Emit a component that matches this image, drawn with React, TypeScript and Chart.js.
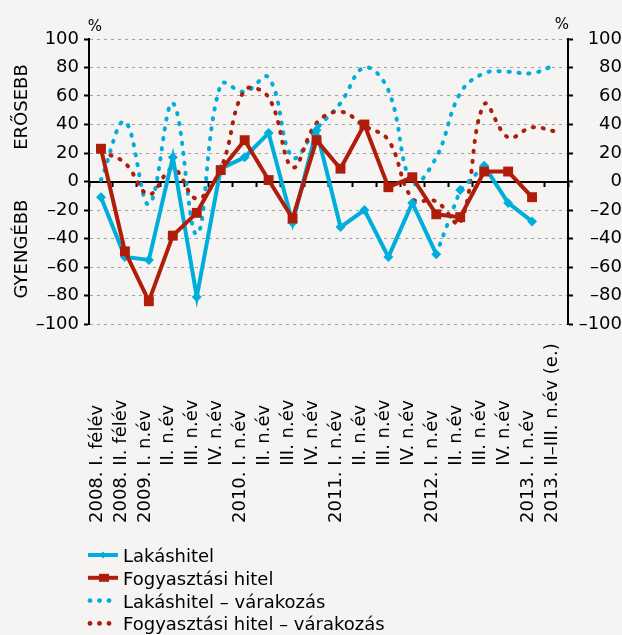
import React, { useEffect, useRef } from "react";
import { Chart, registerables } from "chart.js";

Chart.register(...registerables);

const yearLabels = ["2008.", "2008.", "2009.", "", "", "", "2010.", "", "", "", "2011.", "", "", "", "2012.", "", "", "", "2013.", "2013."];
const periodLabels = [
  "I. félév", "II. félév", "I. n.év", "II. n.év", "III. n.év", "IV. n.év",
  "I. n.év", "II. n.év", "III. n.év", "IV. n.év",
  "I. n.év", "II. n.év", "III. n.év", "IV. n.év",
  "I. n.év", "II. n.év", "III. n.év", "IV. n.év",
  "I. n.év", "II–III. n.év (e.)",
];
const categories = yearLabels.map((y, i) => (y ? y + " " : "") + periodLabels[i]);

const lakashitel = [-11, -53, -55, 17, -81, 9, 17, 34, -29, 36, -32, -20, -53, -15, -51, -6, 11, -15, -28, null];
const fogyasztasi = [23, -49, -84, -38, -22, 8, 29, 1, -26, 29, 9, 40, -4, 3, -23, -25, 7, 7, -11, null];
const lakashitelVar = [1, 42, -16, 55, -37, 68, 63, 73, 17, 37, 55, 80, 64, -1, 17, 62, 76, 77, 76, 82];
const fogyasztasiVar = [21, 13, -9, 9, -12, 9, 64, 59, 10, 41, 49, 39, 29, -12, -14, -29, 54, 31, 38, 35];
const lakashitelDottedSegments = [14, 15];

const legendLabels = ["Lakáshitel", "Fogyasztási hitel", "Lakáshitel – várakozás", "Fogyasztási hitel – várakozás"];
const axisTitleTop = "ERŐSEBB";
const axisTitleBottom = "GYENGÉBB";
const unitLabel = "%";

const CYAN = "#00aedc";
const RED = "#b01e0b";
const BG = "#f5f4f2";
const FONT = '"DejaVu Sans"';
const DOT = [1.2, 8.8];

const tickLabel = (v: any) => (Number(v) < 0 ? "–" + Math.abs(Number(v)) : String(v));

const extrasPlugin = {
  id: "extras",
  beforeDraw(chart: any) {
    const { ctx, width, height } = chart;
    ctx.save();
    ctx.fillStyle = BG;
    ctx.fillRect(0, 0, width, height);
    ctx.restore();
  },
  afterDraw(chart: any) {
    const { ctx } = chart;
    const xs = chart.scales.x;
    const area = chart.chartArea;
    ctx.save();
    ctx.fillStyle = "#000";
    ctx.font = `18px ${FONT}`;
    ctx.textBaseline = "middle";
    ctx.textAlign = "left";
    const yearW = ctx.measureText("2008. ").width;
    categories.forEach((_, i) => {
      const x = xs.getPixelForValue(i) - 4;
      ctx.save();
      ctx.translate(x, 523);
      ctx.rotate(-Math.PI / 2);
      if (yearLabels[i]) ctx.fillText(yearLabels[i], 0, 0);
      ctx.fillText(periodLabels[i], yearW, 0);
      ctx.restore();
    });

    // axis side titles
    ctx.textAlign = "center";
    ctx.save();
    ctx.translate(22, 107);
    ctx.rotate(-Math.PI / 2);
    ctx.fillText(axisTitleTop, 0, 0);
    ctx.restore();
    ctx.save();
    ctx.translate(22, 249);
    ctx.rotate(-Math.PI / 2);
    ctx.fillText(axisTitleBottom, 0, 0);
    ctx.restore();

    // unit labels
    ctx.font = `15px ${FONT}`;
    ctx.fillText(unitLabel, area.left + 6, area.top - 12);
    ctx.fillText(unitLabel, area.right - 6, area.top - 14);

    // legend
    const styles = [
      { color: CYAN, dotted: false, marker: "diamond" },
      { color: RED, dotted: false, marker: "square" },
      { color: CYAN, dotted: true, marker: "" },
      { color: RED, dotted: true, marker: "" },
    ];
    ctx.font = `18px ${FONT}`;
    ctx.textAlign = "left";
    ctx.textBaseline = "alphabetic";
    legendLabels.forEach((label, k) => {
      const ly = 555 + 22.8 * k;
      const st = styles[k];
      ctx.fillStyle = st.color;
      ctx.strokeStyle = st.color;
      if (st.dotted) {
        [90, 99.5, 109].forEach((dx) => {
          ctx.beginPath();
          ctx.arc(dx, ly, 2.4, 0, Math.PI * 2);
          ctx.fill();
        });
      } else {
        ctx.lineWidth = 4;
        ctx.beginPath();
        ctx.moveTo(88, ly);
        ctx.lineTo(118, ly);
        ctx.stroke();
        if (st.marker === "diamond") {
          ctx.beginPath();
          ctx.moveTo(103, ly - 3.5);
          ctx.lineTo(106.5, ly);
          ctx.lineTo(103, ly + 3.5);
          ctx.lineTo(99.5, ly);
          ctx.closePath();
          ctx.fill();
        } else {
          ctx.fillRect(99, ly - 4, 10, 8);
        }
      }
      ctx.fillStyle = "#000";
      ctx.fillText(label, 123, ly + 7);
    });
    ctx.restore();
  },
};

export default function App() {
  const ref = useRef<HTMLCanvasElement | null>(null);
  useEffect(() => {
    if (!ref.current) return;
    const tickFont = { family: FONT, size: 18 };
    const chart = new Chart(ref.current, {
      type: "line",
      data: {
        labels: categories,
        datasets: [
          {
            label: legendLabels[0],
            data: lakashitel,
            borderColor: CYAN,
            backgroundColor: CYAN,
            borderWidth: 4,
            pointStyle: "rectRot",
            pointRadius: 5,
            pointBorderWidth: 0,
            tension: 0,
            order: 1,
            segment: {
              borderDash: (c: any) => (lakashitelDottedSegments.includes(c.p0DataIndex) ? DOT : undefined),
              borderCapStyle: (c: any) => (lakashitelDottedSegments.includes(c.p0DataIndex) ? "round" : undefined),
            },
          },
          {
            label: legendLabels[1],
            data: fogyasztasi,
            borderColor: RED,
            backgroundColor: RED,
            borderWidth: 4,
            pointStyle: "rect",
            pointRadius: 7,
            pointBorderWidth: 0,
            tension: 0,
            order: 0,
          },
          {
            label: legendLabels[2],
            data: lakashitelVar,
            borderColor: CYAN,
            borderWidth: 4,
            borderDash: DOT,
            borderCapStyle: "round",
            pointRadius: 0,
            tension: 0.4,
            order: 3,
          },
          {
            label: legendLabels[3],
            data: fogyasztasiVar,
            borderColor: RED,
            borderWidth: 4,
            borderDash: DOT,
            borderCapStyle: "round",
            pointRadius: 0,
            tension: 0.4,
            order: 2,
          },
        ],
      } as any,
      options: {
        responsive: false,
        animation: false,
        layout: { padding: { top: 39, bottom: 311, left: 0, right: 0 } },
        plugins: { legend: { display: false }, tooltip: { enabled: false } },
        scales: {
          x: {
            type: "category",
            offset: true,
            position: { y: 0 } as any,
            ticks: { display: false },
            grid: {
              offset: true,
              drawOnChartArea: false,
              drawTicks: true,
              tickLength: 4,
              tickColor: "#000",
              tickWidth: 2,
            },
            border: { color: "#000", width: 2 },
          },
          y: {
            position: "left",
            min: -100,
            max: 100,
            ticks: { stepSize: 20, color: "#000", font: tickFont, padding: 5, callback: tickLabel },
            grid: { color: "#a3a3a3", lineWidth: 1, tickColor: "#000", tickLength: 5, tickWidth: 2 },
            border: { color: "#000", width: 2, dash: [3, 4] },
            afterFit: (s: any) => {
              s.width = 89;
            },
          },
          y2: {
            position: "right",
            min: -100,
            max: 100,
            ticks: { stepSize: 20, color: "#000", font: tickFont, padding: 5, crossAlign: "far", callback: tickLabel },
            grid: { drawOnChartArea: false, tickColor: "#000", tickLength: 5, tickWidth: 2 },
            border: { color: "#000", width: 2 },
            afterFit: (s: any) => {
              s.width = 54;
            },
          },
        },
      } as any,
      plugins: [extrasPlugin],
    });
    return () => chart.destroy();
  }, []);

  return (
    <div style={{ position: "fixed", left: 0, top: 0, width: 622, height: 635, background: BG }}>
      <canvas ref={ref} width={622} height={635} style={{ display: "block" }} />
    </div>
  );
}
